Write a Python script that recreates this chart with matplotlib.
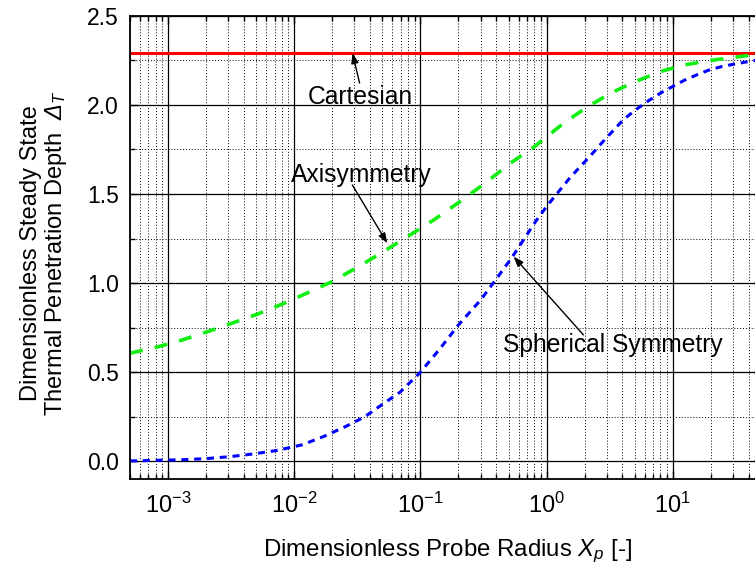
import matplotlib
matplotlib.use('Agg')
import matplotlib.pyplot as plt
import numpy as np
from matplotlib.ticker import LogLocator, MultipleLocator, NullFormatter, FormatStrFormatter

plt.rcParams['font.family'] = ['Liberation Sans', 'DejaVu Sans']
plt.rcParams['mathtext.fontset'] = 'custom'
plt.rcParams['mathtext.rm'] = 'Liberation Sans'
plt.rcParams['mathtext.it'] = 'Liberation Sans:italic'
plt.rcParams['mathtext.sf'] = 'Liberation Sans:italic'  # used for the italic Delta
plt.rcParams['mathtext.default'] = 'regular'

# values
cartesian_x = [5e-4, 50]
cartesian_y = [2.29, 2.29]

axisym_x = [5e-4, 8.1e-4, 1.28e-3, 2e-3, 3.2e-3, 5.1e-3, 8e-3, 0.0126, 0.02, 0.0324,
            0.0511, 0.0807, 0.128, 0.201, 0.318, 0.518, 0.8, 1.37, 2.04, 3.22,
            5.08, 8.0, 12.6, 20, 31.6, 50]
axisym_y = [0.607, 0.641, 0.68, 0.725, 0.775, 0.826, 0.882, 0.944, 1.009, 1.093,
            1.177, 1.265, 1.355, 1.452, 1.555, 1.673, 1.765, 1.898, 1.982, 2.066,
            2.131, 2.187, 2.225, 2.249, 2.268, 2.285]

spher_x = [5e-4, 8.9e-4, 1.32e-3, 2e-3, 3.1e-3, 4.7e-3, 7.2e-3, 0.0115, 0.017, 0.0254,
           0.0363, 0.0493, 0.0694, 0.1, 0.144, 0.2, 0.3, 0.406, 0.534, 0.66,
           0.818, 1.0, 1.22, 1.55, 2.23, 2.77, 3.42, 4.11, 5.08, 6.49,
           8.0, 10, 12.3, 15.6, 19, 24.5, 31.6, 43, 50]
spher_y = [0.003, 0.007, 0.01, 0.016, 0.027, 0.042, 0.061, 0.093, 0.139, 0.195,
           0.251, 0.317, 0.39, 0.5, 0.635, 0.765, 0.905, 1.03, 1.146, 1.245,
           1.345, 1.43, 1.505, 1.595, 1.715, 1.79, 1.86, 1.92, 1.972, 2.025,
           2.066, 2.103, 2.137, 2.169, 2.193, 2.215, 2.23, 2.247, 2.252]

W, H = 755, 570
fig = plt.figure(figsize=(W / 100, H / 100), dpi=100)
ax = fig.add_axes([130 / W, (H - 479.3) / H, (760.9 - 130) / W, (479.3 - 15.7) / H])

ax.plot(cartesian_x, cartesian_y, color='#ff0000', lw=2.2, solid_capstyle='butt')
ax.plot(axisym_x, axisym_y, color='#11ee11', lw=2.6, dashes=(3.6, 3.4))
ax.plot(spher_x, spher_y, color='#0000ff', lw=2.2, dashes=(2.3, 1.9))

ax.set_xscale('log')
ax.set_xlim(5e-4, 50)
ax.set_ylim(-0.1, 2.5)

ax.xaxis.set_major_locator(LogLocator(base=10, numticks=20))
ax.xaxis.set_minor_locator(LogLocator(base=10, subs=np.arange(2, 10), numticks=100))
ax.xaxis.set_minor_formatter(NullFormatter())
ax.yaxis.set_major_locator(MultipleLocator(0.5))
ax.yaxis.set_minor_locator(MultipleLocator(0.25))
ax.yaxis.set_major_formatter(FormatStrFormatter('%.1f'))

ax.set_axisbelow(True)
ax.grid(which='major', color='black', lw=0.9, ls='-')
ax.grid(which='minor', color='black', lw=0.7, ls=(0, (1, 2)))

ax.tick_params(which='both', direction='in', top=True, right=True, width=1.0)
ax.tick_params(which='major', length=6)
ax.tick_params(which='minor', length=3.5)
ax.tick_params(axis='y', labelsize=16.5, pad=8)
ax.tick_params(axis='x', labelsize=17, pad=10)
for s in ax.spines.values():
    s.set_linewidth(1.3)

# annotations
arrow = dict(arrowstyle='-|>,head_length=0.6,head_width=0.22', color='black', lw=1.0,
             shrinkA=0, shrinkB=0)
ax.annotate('', xy=(0.029, 2.29), xytext=(0.033, 2.122), arrowprops=arrow)
ax.text(0.0336, 2.045, 'Cartesian', fontsize=17.7, ha='center', va='center')
ax.annotate('', xy=(0.0547, 1.224), xytext=(0.0289, 1.551), arrowprops=arrow)
ax.text(0.0342, 1.607, 'Axisymmetry', fontsize=17.7, ha='center', va='center')
ax.annotate('', xy=(0.548, 1.149), xytext=(1.96, 0.71), arrowprops=arrow)
ax.text(3.37, 0.654, 'Spherical Symmetry', fontsize=17.7, ha='center', va='center')

# axis labels
fig.text(447.5 / W, 1 - 556.5 / H, r'Dimensionless Probe Radius $\mathit{X}_{\mathit{p}}$ [-]',
         fontsize=17.3, ha='center', va='baseline')
fig.text(37.5 / W, 1 - 253 / H, 'Dimensionless Steady State', fontsize=17,
         rotation=90, rotation_mode='anchor', ha='center', va='baseline')
fig.text(62 / W, 1 - 253 / H, r'Thermal Penetration Depth  $\mathsf{\Delta}_{\mathit{T}}$',
         fontsize=17, rotation=90, rotation_mode='anchor', ha='center', va='baseline')

fig.savefig('out.png', dpi=100)
